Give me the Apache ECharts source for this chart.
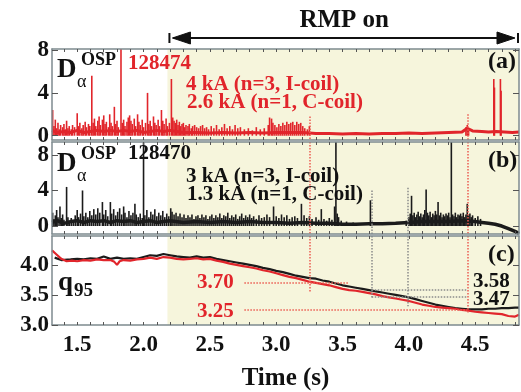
<!DOCTYPE html>
<html>
<head>
<meta charset="utf-8">
<script src="https://cdn.jsdelivr.net/npm/echarts@6/dist/echarts.min.js"></script>
<style>
  html, body { margin: 0; padding: 0; background: #fff; }
  #chart { width: 521px; height: 392px; }
</style>
</head>
<body>
<div id="chart"></div>
<script>
// time axis (s)
const X_MIN = 1.31, X_MAX = 4.83, RMP_ON = 2.18;
const tMinor = [1.4,1.5,1.6,1.7,1.8,1.9,2.0,2.1,2.2,2.3,2.4,2.5,2.6,2.7,2.8,2.9,3.0,3.1,3.2,3.3,3.4,3.5,3.6,3.7,3.8,3.9,4.0,4.1,4.2,4.3,4.4,4.5,4.6,4.7,4.8];
const tLabels = [1.5, 2.0, 2.5, 3.0, 3.5, 4.0, 4.5];
const dTicks = [0, 4, 8];
const qTicks = [3.0, 3.5, 4.0];

// (a) shot 128474, D-alpha spikes [t, height]
const spikesA = [
  [1.315,2.4],[1.325,0.9],[1.335,1.5],[1.345,0.7],[1.355,1.2],[1.365,0.6],[1.375,1.0],[1.39,0.8],[1.40,1.1],[1.41,0.6],
  [1.42,1.4],[1.43,0.7],[1.44,0.9],[1.455,0.6],[1.465,1.0],[1.48,0.8],[1.50,2.1],[1.51,0.9],[1.52,1.2],[1.535,0.7],
  [1.545,1.0],[1.56,1.3],[1.57,0.8],[1.585,1.1],[1.595,0.9],[1.61,5.6],[1.62,1.2],[1.63,1.6],[1.64,0.9],[1.655,1.4],
  [1.665,1.8],[1.675,1.0],[1.69,1.5],[1.70,1.9],[1.71,1.1],[1.72,1.3],[1.735,0.8],[1.745,2.0],[1.755,1.2],[1.765,0.9],
  [1.78,2.7],[1.79,1.1],[1.80,1.4],[1.81,0.8],[1.83,8.2],[1.84,1.2],[1.85,1.5],[1.86,0.9],[1.875,1.3],[1.885,1.7],
  [1.895,1.9],[1.905,1.4],[1.915,1.1],[1.93,1.6],[1.94,0.9],[1.955,2.0],[1.965,1.3],[1.975,1.0],[1.99,1.5],[2.00,0.8],
  [2.015,1.2],[2.03,4.0],[2.04,1.1],[2.05,1.4],[2.06,0.9],[2.075,1.8],[2.085,1.2],[2.095,1.0],[2.11,1.5],[2.12,0.9],
  [2.135,2.4],[2.145,1.4],[2.155,1.1],[2.17,1.6],[2.18,0.9],[2.195,1.2],
  [2.21,5.3],[2.22,1.7],[2.23,1.4],[2.24,1.2],[2.25,1.5],[2.26,1.0],[2.27,1.3],[2.28,0.9],[2.29,1.1],[2.30,1.2],
  [2.31,0.8],[2.32,1.0],[2.335,0.9],[2.345,1.1],[2.36,0.7],[2.37,0.9],[2.385,1.0],[2.40,0.8],[2.415,0.7],[2.43,0.9],
  [2.445,1.0],[2.46,0.7],[2.475,0.8],[2.49,0.6],[2.51,0.9],[2.53,0.7],[2.55,1.0],[2.57,0.6],[2.59,0.8],[2.61,1.1],
  [2.63,0.7],[2.65,0.9],[2.67,0.6],[2.69,1.0],[2.71,0.7],[2.73,0.8],[2.76,0.6],[2.79,0.7],[2.82,0.5],[2.85,0.8],
  [2.88,0.6],[2.91,0.7],[2.94,1.0],[2.95,1.7],[2.965,1.6],[2.975,1.2],[2.99,1.0],[3.005,0.8],[3.02,1.1],[3.035,0.9],
  [3.05,1.2],[3.065,1.0],[3.08,1.3],[3.095,1.1],[3.11,1.2],[3.125,1.3],[3.14,1.0],[3.155,1.3],[3.17,1.1],[3.185,1.2],
  [3.20,0.9],[3.215,0.7],[3.235,0.6],[3.25,0.9],
  [4.43,0.8],[4.44,1.0],[4.45,0.7],[4.64,5.3],[4.645,4.5],[4.69,5.3],[4.695,4.2]
];
const baseA = [
  [1.31,0.5],[1.35,0.3],[1.40,0.4],[1.45,0.3],[1.50,0.5],[1.55,0.3],[1.60,0.4],[1.65,0.5],[1.70,0.4],[1.75,0.5],
  [1.80,0.4],[1.85,0.5],[1.90,0.4],[1.95,0.5],[2.00,0.3],[2.05,0.4],[2.10,0.5],[2.15,0.4],[2.20,0.5],[2.25,0.4],
  [2.30,0.3],[2.40,0.3],[2.50,0.25],[2.60,0.3],[2.70,0.25],[2.80,0.3],[2.90,0.25],[3.00,0.3],[3.10,0.3],[3.20,0.3],
  [3.30,0.2],[3.40,0.2],[3.50,0.15],[3.60,0.2],[3.70,0.15],[3.80,0.2],[3.90,0.2],[4.00,0.25],[4.10,0.2],[4.20,0.25],
  [4.30,0.3],[4.40,0.35],[4.44,0.7],[4.48,0.45],[4.55,0.4],[4.60,0.35],[4.66,0.4],[4.72,0.35],[4.78,0.3],[4.83,0.35]
];

// (b) shot 128470
const spikesB = [
  [1.315,1.5],[1.325,0.8],[1.335,1.2],[1.345,1.8],[1.355,1.0],[1.37,2.2],[1.38,0.9],[1.39,1.3],[1.40,0.7],[1.42,4.4],
  [1.43,1.0],[1.44,0.6],[1.455,0.9],[1.47,0.5],[1.485,1.2],[1.50,1.8],[1.51,1.0],[1.525,1.4],[1.54,4.0],[1.55,1.1],
  [1.565,1.5],[1.58,1.0],[1.595,1.7],[1.61,1.2],[1.625,1.9],[1.64,1.3],[1.655,2.0],[1.67,1.5],[1.69,2.7],[1.70,1.3],
  [1.715,1.8],[1.73,1.1],[1.75,2.7],[1.76,1.4],[1.775,1.9],[1.79,1.2],[1.805,1.6],[1.82,2.0],[1.835,1.3],[1.85,2.2],
  [1.86,1.5],[1.875,1.0],[1.89,1.7],[1.905,1.2],[1.92,1.5],[1.935,2.5],[1.945,1.3],[1.96,1.0],[1.975,1.4],[1.99,0.9],
  [2.00,12],[2.01,1.2],[2.025,1.8],[2.04,1.0],[2.055,1.6],[2.07,1.3],[2.085,1.9],[2.10,1.1],[2.115,1.5],[2.13,1.2],
  [2.145,1.7],[2.16,1.0],[2.175,1.4],[2.19,1.1],
  [2.205,2.0],[2.215,1.6],[2.23,1.3],[2.245,1.5],[2.26,1.1],[2.275,1.4],[2.29,1.0],[2.305,1.3],[2.32,0.9],[2.335,1.2],
  [2.35,1.0],[2.365,1.3],[2.38,0.8],[2.395,1.1],[2.41,1.2],[2.425,0.9],[2.44,1.3],[2.455,1.0],[2.47,1.2],[2.485,0.8],
  [2.50,1.1],[2.515,1.3],[2.53,0.9],[2.545,1.2],[2.56,1.0],[2.575,1.4],[2.59,0.9],[2.605,1.2],[2.62,1.1],[2.635,1.5],
  [2.65,0.9],[2.665,1.2],[2.68,1.0],[2.695,1.3],[2.71,0.8],[2.725,1.1],[2.74,1.4],[2.755,0.9],[2.77,1.2],[2.785,1.0],
  [2.80,1.3],[2.815,0.9],[2.83,1.1],[2.85,0.8],[2.87,1.2],[2.89,0.9],[2.91,1.0],[2.93,1.3],[2.95,1.0],[2.98,2.2],
  [3.00,1.1],[3.02,0.9],[3.04,1.3],[3.06,1.0],[3.08,1.2],[3.10,0.8],[3.12,1.0],[3.14,1.1],[3.16,0.9],[3.19,2.5],
  [3.21,1.2],[3.23,0.9],[3.25,1.1],[3.27,0.8],[3.30,1.0],[3.32,0.7],[3.34,1.9],[3.36,0.8],[3.38,0.6],[3.40,0.9],
  [3.42,0.7],[3.44,2.2],[3.45,12],[3.46,1.4],[3.47,1.0],[3.49,0.6],[3.53,0.5],[3.58,0.4],[3.71,2.9],[3.98,0.6],
  [4.00,1.0],[4.01,1.4],[4.02,3.4],[4.03,1.2],[4.04,1.5],[4.05,1.0],[4.06,1.3],[4.07,1.6],[4.08,1.1],[4.09,1.4],
  [4.10,1.0],[4.11,1.3],[4.12,1.8],[4.13,4.1],[4.14,1.5],[4.15,1.2],[4.16,1.6],[4.17,1.0],[4.18,1.4],[4.19,1.2],
  [4.20,1.7],[4.21,1.3],[4.22,2.7],[4.23,1.2],[4.24,1.5],[4.25,1.0],[4.26,1.3],[4.27,1.1],[4.28,1.4],[4.29,1.2],
  [4.30,1.5],[4.31,1.0],[4.32,12],[4.33,1.3],[4.34,1.1],[4.35,1.5],[4.36,1.0],[4.37,1.3],[4.38,1.2],[4.39,1.4],
  [4.40,1.1],[4.41,1.5],[4.42,1.0],[4.43,1.3],[4.44,2.5],[4.45,1.2],[4.46,1.4],[4.47,1.0],[4.48,1.2],[4.50,0.9],
  [4.52,1.1],[4.54,0.8]
];
const baseB = [
  [1.31,0.4],[1.35,0.6],[1.40,0.3],[1.45,0.5],[1.50,0.6],[1.55,0.4],[1.60,0.6],[1.65,0.5],[1.70,0.6],[1.75,0.4],
  [1.80,0.6],[1.85,0.5],[1.90,0.6],[1.95,0.4],[2.00,0.5],[2.05,0.6],[2.10,0.4],[2.15,0.5],[2.20,0.6],[2.30,0.4],
  [2.40,0.5],[2.50,0.4],[2.60,0.5],[2.70,0.4],[2.80,0.5],[2.90,0.4],[3.00,0.4],[3.10,0.3],[3.20,0.4],[3.30,0.3],
  [3.40,0.3],[3.50,0.2],[3.60,0.2],[3.70,0.25],[3.80,0.25],[3.90,0.3],[4.00,0.4],[4.10,0.5],[4.20,0.5],[4.30,0.5],
  [4.40,0.6],[4.50,0.5],[4.55,0.4],[4.60,0.3],[4.65,0.2],[4.70,0.0],[4.75,-0.3],[4.80,-0.6],[4.83,-0.85]
];

// (c) q95
const q95Black = [
  [1.33,4.12],[1.38,4.08],[1.45,4.09],[1.50,4.10],[1.55,4.09],[1.60,4.11],[1.65,4.10],[1.70,4.14],[1.75,4.10],[1.80,4.12],
  [1.85,4.10],[1.90,4.11],[1.95,4.10],[2.00,4.13],[2.05,4.16],[2.10,4.15],[2.15,4.18],[2.20,4.16],[2.25,4.14],[2.30,4.13],
  [2.35,4.12],[2.40,4.14],[2.45,4.12],[2.50,4.13],[2.55,4.10],[2.60,4.08],[2.65,4.06],[2.70,4.04],[2.75,4.02],[2.80,4.00],
  [2.85,3.98],[2.90,3.95],[2.95,3.93],[3.00,3.90],[3.05,3.88],[3.10,3.85],[3.15,3.82],[3.20,3.80],[3.25,3.78],[3.30,3.77],
  [3.35,3.74],[3.40,3.72],[3.45,3.69],[3.50,3.66],[3.55,3.64],[3.60,3.62],[3.65,3.60],[3.70,3.58],[3.75,3.56],[3.80,3.54],
  [3.85,3.52],[3.90,3.50],[3.95,3.48],[4.00,3.46],[4.05,3.43],[4.10,3.40],[4.15,3.37],[4.20,3.34],[4.25,3.32],[4.30,3.30],
  [4.35,3.28],[4.40,3.27],[4.45,3.26],[4.50,3.26],[4.55,3.26],[4.60,3.27],[4.65,3.27],[4.70,3.28],[4.75,3.28],[4.80,3.29],[4.83,3.29]
];
const q95Red = [
  [1.31,4.24],[1.34,4.18],[1.38,4.10],[1.42,4.06],[1.46,4.07],[1.50,4.06],[1.55,4.08],[1.60,4.07],[1.65,4.09],[1.70,4.08],
  [1.75,4.08],[1.78,4.05],[1.80,4.00],[1.82,4.06],[1.85,4.08],[1.90,4.07],[1.95,4.09],[2.00,4.10],[2.05,4.12],[2.10,4.10],
  [2.15,4.13],[2.20,4.12],[2.25,4.10],[2.30,4.09],[2.35,4.10],[2.40,4.11],[2.45,4.09],[2.50,4.10],[2.55,4.07],[2.60,4.05],
  [2.65,4.02],[2.70,4.00],[2.75,3.98],[2.80,3.96],[2.85,3.94],[2.90,3.91],[2.95,3.89],[3.00,3.86],[3.05,3.83],[3.10,3.80],
  [3.15,3.78],[3.20,3.75],[3.25,3.72],[3.30,3.70],[3.35,3.68],[3.40,3.66],[3.45,3.63],[3.50,3.60],[3.55,3.58],[3.60,3.57],
  [3.65,3.55],[3.70,3.53],[3.75,3.51],[3.80,3.48],[3.85,3.46],[3.90,3.44],[3.95,3.42],[4.00,3.40],[4.05,3.37],[4.10,3.34],
  [4.15,3.32],[4.20,3.30],[4.25,3.29],[4.30,3.28],[4.35,3.27],[4.40,3.25],[4.45,3.24],[4.50,3.22],[4.55,3.21],[4.60,3.20],
  [4.65,3.19],[4.70,3.18],[4.75,3.15],[4.80,3.14],[4.83,3.17]
];

// dotted guide lines [t1, y1, t2, y2, kind]
const guidesA = [[3.25,1.8,3.25,-0.4,'r'],[4.44,2.0,4.44,-0.4,'r']];
const guidesB = [[3.25,9.46,3.25,-0.9,'r'],[4.44,9.46,4.44,-0.9,'r'],[3.72,4.0,3.72,-0.9,'g'],[3.99,4.3,3.99,-0.9,'g']];
const guidesC = [
  [3.25,4.48,3.25,3.55,'r'],[4.44,4.48,4.44,3.19,'r'],[3.72,4.48,3.72,3.45,'g'],[3.99,4.48,3.99,3.31,'g'],
  [2.76,3.70,3.55,3.70,'r'],[2.76,3.25,4.44,3.25,'r'],[3.72,3.58,4.44,3.58,'g'],[3.72,3.47,4.44,3.47,'g']
];

const SERIF = '"Liberation Serif", "DejaVu Serif", serif';
const RED = '#e1252b', BLACK = '#1b1b1b', RED_DOT = '#ec5b52', GRAY_DOT = '#8a8a8a';
const FRAME = '#7e8a8f', RMP_BG = '#f6f5dc';

const chart = echarts.init(document.getElementById('chart'), null, { renderer: 'canvas' });

function xAx(gi, pos, labels) {
  return {
    type: 'value', gridIndex: gi, position: pos, min: X_MIN, max: X_MAX, z: 10,
    axisLine: { show: true, onZero: false, lineStyle: { color: FRAME, width: 1.5 } },
    axisTick: { show: true, inside: true, length: 3, customValues: tMinor, lineStyle: { color: '#555' } },
    splitLine: { show: false },
    axisLabel: {
      show: labels, customValues: tLabels, formatter: v => v.toFixed(1), margin: 9,
      color: '#111', fontFamily: SERIF, fontWeight: 'bold', fontSize: 23
    },
    name: labels ? 'Time (s)' : '', nameLocation: 'middle', nameGap: 41,
    nameTextStyle: { color: '#111', fontFamily: SERIF, fontWeight: 'bold', fontSize: 25 }
  };
}
function yAx(gi, pos, min, max, ticks, fmt) {
  return {
    type: 'value', gridIndex: gi, position: pos, min: min, max: max, z: 10,
    axisLine: { show: true, onZero: false, lineStyle: { color: FRAME, width: 1.5 } },
    axisTick: { show: true, inside: true, length: 6, customValues: ticks, lineStyle: { color: '#555' } },
    splitLine: { show: false },
    axisLabel: {
      show: pos === 'left', customValues: ticks, formatter: fmt, margin: 3,
      color: '#111', fontFamily: SERIF, fontWeight: 'bold', fontSize: 23
    }
  };
}
function bgSeries(gi, data) {
  return {
    type: 'line', xAxisIndex: gi, yAxisIndex: gi, data: data, z: 1, silent: true,
    showSymbol: false, lineStyle: { opacity: 0 },
    markArea: { silent: true, itemStyle: { color: RMP_BG }, data: [[{ xAxis: RMP_ON }, { xAxis: X_MAX }]] }
  };
}
function guideSeries(gi, data, guides) {
  return {
    type: 'line', xAxisIndex: gi, yAxisIndex: gi, data: data, z: 2, silent: true,
    showSymbol: false, lineStyle: { opacity: 0 },
    markLine: {
      silent: true, symbol: ['none', 'none'], label: { show: false },
      data: guides.map(g => [
        { coord: [g[0], g[1]], lineStyle: { color: g[4] === 'r' ? RED_DOT : GRAY_DOT, type: 'dotted', width: 1.5 } },
        { coord: [g[2], g[3]] }
      ])
    }
  };
}

const fmtInt = v => String(v);
const fmtQ = v => v.toFixed(1);

chart.setOption({
  animation: false,
  backgroundColor: '#fff',
  grid: [
    { left: 52, top: 49, width: 467, height: 91, show: true, backgroundColor: '#fff', borderWidth: 0 },
    { left: 52, top: 142, width: 467, height: 92, show: true, backgroundColor: '#fff', borderWidth: 0 },
    { left: 52, top: 236, width: 467, height: 91, show: true, backgroundColor: '#fff', borderWidth: 0 }
  ],
  xAxis: [xAx(0, 'bottom', false), xAx(1, 'bottom', false), xAx(2, 'bottom', true),
          xAx(0, 'top', false), xAx(1, 'top', false), xAx(2, 'top', false)],
  yAxis: [yAx(0, 'left', -0.4, 8.1, dTicks, fmtInt), yAx(1, 'left', -0.9, 9.46, dTicks, fmtInt), yAx(2, 'left', 3.0, 4.48, qTicks, fmtQ),
          yAx(0, 'right', -0.4, 8.1, dTicks, fmtInt), yAx(1, 'right', -0.9, 9.46, dTicks, fmtInt), yAx(2, 'right', 3.0, 4.48, qTicks, fmtQ)],
  series: [
    bgSeries(0, baseA), guideSeries(0, baseA, guidesA),
    { type: 'bar', xAxisIndex: 0, yAxisIndex: 0, data: spikesA, barWidth: 1.6, z: 3, silent: true, itemStyle: { color: RED } },
    { type: 'line', xAxisIndex: 0, yAxisIndex: 0, data: baseA, z: 4, silent: true, showSymbol: false, lineStyle: { color: RED, width: 3 } },

    bgSeries(1, baseB), guideSeries(1, baseB, guidesB),
    { type: 'bar', xAxisIndex: 1, yAxisIndex: 1, data: spikesB, barWidth: 1.6, z: 3, silent: true, itemStyle: { color: BLACK } },
    { type: 'line', xAxisIndex: 1, yAxisIndex: 1, data: baseB, z: 4, silent: true, showSymbol: false, lineStyle: { color: BLACK, width: 3.5 } },

    bgSeries(2, q95Black), guideSeries(2, q95Black, guidesC),
    { type: 'line', xAxisIndex: 2, yAxisIndex: 2, data: q95Black, z: 3, silent: true, showSymbol: false, lineStyle: { color: BLACK, width: 2.2 } },
    { type: 'line', xAxisIndex: 2, yAxisIndex: 2, data: q95Red, z: 4, silent: true, showSymbol: false, lineStyle: { color: RED, width: 2.2 } }
  ]
});

// annotations
function txt(x, y, s, size, color, bold, align) {
  return {
    type: 'text', x: x, y: y, z: 100, silent: true,
    style: {
      text: s, fill: color, font: (bold ? 'bold ' : '') + size + 'px ' + SERIF,
      align: align || 'left', textAlign: align || 'left', verticalAlign: 'middle', textVerticalAlign: 'middle'
    }
  };
}
const xL = chart.convertToPixel({ xAxisIndex: 0 }, RMP_ON) + 2;
const xR = chart.convertToPixel({ xAxisIndex: 0 }, X_MAX);
const yA = 38;
const ink = { fill: '#111', stroke: '#111' };

chart.setOption({
  graphic: [
    txt((xL + xR) / 2, 21, 'RMP on', 25, '#111', true, 'center'),
    { type: 'line', silent: true, z: 100, shape: { x1: xL + 4, y1: yA, x2: xR - 6, y2: yA }, style: { stroke: '#111', lineWidth: 2.2 } },
    { type: 'line', silent: true, z: 100, shape: { x1: xL, y1: yA - 5, x2: xL, y2: yA + 5 }, style: { stroke: '#111', lineWidth: 2 } },
    { type: 'line', silent: true, z: 100, shape: { x1: xR - 1, y1: yA - 5, x2: xR - 1, y2: yA + 5 }, style: { stroke: '#111', lineWidth: 2 } },
    { type: 'polygon', silent: true, z: 100, shape: { points: [[xL + 3, yA], [xL + 21, yA - 6], [xL + 21, yA + 6]] }, style: ink },
    { type: 'polygon', silent: true, z: 100, shape: { points: [[xR - 4, yA], [xR - 22, yA - 6], [xR - 22, yA + 6]] }, style: ink },

    txt(57, 70, 'D', 27, '#111', true), txt(77, 82, 'α', 18, '#111', false), txt(81, 60, 'OSP', 18, '#111', true),
    txt(128, 64, '128474', 21, RED, true),
    txt(186, 85, '4 kA (n=3, I-coil)', 21, RED, true),
    txt(187, 103, '2.6 kA (n=1, C-coil)', 21, RED, true),
    txt(488, 62, '(a)', 24, '#111', true),

    txt(57, 164, 'D', 27, '#111', true), txt(77, 176, 'α', 18, '#111', false), txt(81, 154, 'OSP', 18, '#111', true),
    txt(128, 154, '128470', 21, '#111', true),
    txt(186, 177, '3 kA (n=3, I-coil)', 21, '#111', true),
    txt(187, 195, '1.3 kA (n=1, C-coil)', 21, '#111', true),
    txt(488, 161, '(b)', 24, '#111', true),

    txt(58, 283, 'q', 27, '#111', true), txt(74, 291, '95', 19, '#111', true),
    txt(197, 283, '3.70', 21, RED, true), txt(197, 312, '3.25', 21, RED, true),
    txt(473, 282, '3.58', 21, '#111', true), txt(473, 300, '3.47', 21, '#111', true),
    txt(488, 255, '(c)', 24, '#111', true)
  ]
});
</script>
</body>
</html>
